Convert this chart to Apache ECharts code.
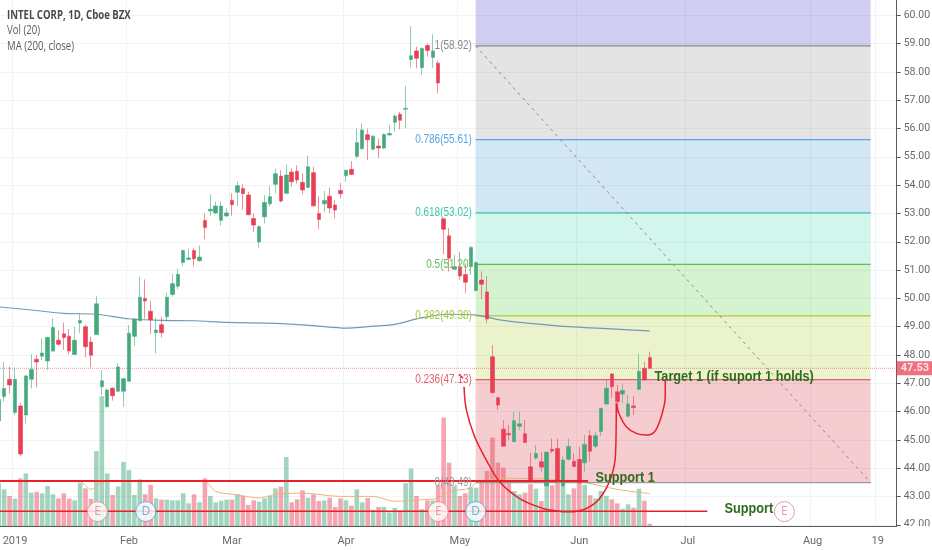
<!DOCTYPE html>
<html><head><meta charset="utf-8">
<style>html,body{margin:0;padding:0;background:#fff}#c{width:932px;height:550px}</style>
<script src="https://cdn.jsdelivr.net/npm/echarts@6/dist/echarts.min.js"></script>
</head><body><div id="c"></div>
<script>
// ---------- data ----------
const holidays = ['2019-01-01','2019-01-21','2019-02-18','2019-04-19','2019-05-27'];
const tickLabels = {'2019-01-02':'2019','2019-02-01':'Feb','2019-03-01':'Mar','2019-04-01':'Apr','2019-05-01':'May','2019-06-03':'Jun','2019-07-01':'Jul','2019-08-01':'Aug','2019-08-19':'19'};
const priceTicks = [42,43,44,45,46,47,48,49,50,51,52,53,54,55,56,57,58,59,60];
// open, close, low, high (first bar = 27 Dec 2018)
const ohlc = [
[45.67,46.43,45.58,46.76],[46.53,46.82,46.35,47.76],[47.14,46.94,46.64,47.59],
[45.97,47.14,45.88,47.56],[46.20,44.50,44.43,46.31],[45.88,47.26,45.58,47.29],[47.14,47.49,46.82,48.03],[47.85,47.75,46.86,48.00],
[47.96,48.07,47.82,48.59],[47.79,48.62,47.47,48.65],[48.14,48.97,48.12,49.30],[48.52,48.38,48.33,48.88],[48.75,48.62,48.18,49.15],
[48.66,48.14,48.03,48.92],[48.02,48.52,48.00,49.00],[49.13,49.22,48.77,49.47],[49.00,48.29,47.92,49.06],[48.46,47.99,47.56,48.65],
[48.72,49.81,48.71,50.08],[46.88,47.09,46.59,47.47],[46.17,46.76,46.15,46.82],[46.83,46.56,46.39,46.86],[46.72,47.58,46.70,47.71],
[46.72,47.16,46.17,47.20],[47.07,48.77,47.06,49.06],[48.66,49.27,48.32,49.29],[49.21,50.04,49.20,50.77],[50.00,49.91,49.29,50.67],
[49.55,49.24,48.74,49.92],[48.79,48.88,48.06,49.32],[49.07,48.79,48.62,49.35],[49.35,50.04,49.18,50.21],[50.14,50.52,50.06,50.86],
[50.43,50.85,50.32,51.06],[51.27,51.69,51.14,51.72],[51.38,51.43,51.33,51.76],[51.69,51.40,51.12,51.77],[51.33,51.46,51.30,51.87],
[52.75,52.50,52.09,53.00],[53.09,53.15,52.92,53.68],[53.02,53.26,52.98,53.42],[52.76,53.26,52.57,53.43],[52.91,53.02,52.88,53.18],
[53.46,53.31,52.92,53.71],[53.75,53.98,53.26,54.12],[53.88,53.70,53.14,54.03],[53.65,52.95,52.94,53.77],[52.82,52.59,52.35,53.00],
[51.99,52.53,51.79,52.58],[52.88,53.39,52.65,53.65],[53.34,53.59,53.24,53.98],[54.03,54.40,53.71,54.59],[54.32,53.44,53.39,54.53],
[53.71,54.36,53.68,54.73],[54.46,54.12,53.94,54.59],[54.49,54.18,54.06,54.71],[54.10,53.83,53.68,54.41],[53.92,54.65,53.91,55.04],
[54.44,53.27,53.24,54.65],[53.00,52.79,52.44,53.61],[53.34,53.46,53.04,53.80],[53.61,53.19,53.00,53.92],[53.30,53.12,52.82,53.47],
[53.81,53.70,53.53,54.08],[54.33,54.53,54.12,54.53],[54.56,54.38,54.36,54.85],[55.02,55.50,54.95,56.00],[55.29,55.95,55.24,56.18],
[55.78,55.60,54.89,56.00],[55.27,55.73,55.24,55.77],[55.38,55.31,54.95,55.65],[55.31,55.79,55.27,55.83],[55.77,55.82,55.75,56.12],
[56.22,56.44,55.89,56.50],[56.50,56.29,55.97,56.59],[56.68,56.71,56.00,57.50],[58.44,58.57,58.15,59.62],[58.74,58.48,58.13,58.89],
[58.15,58.83,57.89,58.86],[58.93,58.76,58.54,59.01],[58.51,58.74,58.15,59.33],[58.31,57.61,57.24,58.40],[52.81,52.44,51.56,52.83],
[52.21,51.42,50.95,52.48],[51.03,51.12,51.00,51.54],[51.12,50.79,50.65,51.65],[50.84,50.57,50.18,51.24],[51.12,51.80,50.83,51.85],
[50.28,51.27,50.24,51.30],[50.65,50.50,49.98,50.95],[50.23,49.27,49.12,50.79],[47.94,46.67,46.65,48.35],[46.49,46.23,46.06,46.53],
[45.38,44.78,44.76,45.70],[45.23,45.18,44.99,45.53],[44.94,45.68,44.94,46.00],[45.48,45.57,45.35,46.00],[45.22,44.91,44.90,45.70],
[44.05,43.56,43.53,44.55],[44.36,44.52,44.31,44.82],[44.23,44.04,43.88,44.58],[43.38,44.57,43.35,44.58],[44.67,44.61,44.53,45.05],
[44.70,43.56,43.52,45.05],[43.38,44.29,43.35,44.41],[44.32,44.77,44.27,45.05],[44.25,44.06,44.05,44.52],[44.31,43.49,43.47,44.76],
[44.19,44.84,43.88,45.17],[45.15,44.60,44.23,45.35],[44.78,45.15,44.70,45.29],[45.30,46.12,45.14,46.12],[46.27,46.83,46.23,47.11],
[47.33,46.88,46.47,47.35],[46.70,46.35,45.96,46.94],[46.62,46.75,46.29,47.00],[45.84,46.27,45.80,46.59],[46.20,46.15,45.88,46.55],
[46.79,47.43,46.76,48.04],[47.53,47.12,47.09,47.76],[47.91,47.53,47.53,48.12]
];
const volumes = [
26,22.3,18.3,16.6,29,32,20.3,20.7,19.9,24.3,19.3,16.8,19.9,16.6,15.6,26,22.9,16.6,45.6,79,
32,18.9,24,39,34,18.9,28.4,19.3,25,16.8,16,16,15.6,15.6,19.9,13.8,19.3,14.4,29,18.3,
14.4,15.4,16,16,19.3,18.3,12.8,15.6,14.8,16.8,18.3,22.9,24,42,14.4,16.2,21.7,17.2,19.3,15.2,
15.6,17.2,11.6,16.8,15.6,12.4,22.3,14.4,17,9.9,11.6,11.6,8.3,11,9.5,26,35,18.3,10.3,15.6,
15.6,25,66,38.5,24.3,18.3,19.9,23.3,23.3,27.4,33.5,53.8,38.5,35.5,27.4,21.3,19.3,20.3,25.4,22.7,
15.2,27.4,24.7,27.4,25.4,19.3,22.9,26.4,24.9,18.7,16.8,21.3,18.3,16.2,13.8,10.5,13.2,11.2,22.7,15.4,1.4
];
// [bar number from 2 Jan 2019, value]
const ma200 = [[-3.5,49.71],[3,49.59],[9,49.47],[15,49.44],[21,49.28],[27,49.22],[33,49.21],[39,49.15],[48,49.12],[55,49.04],[61,48.95],[65,49.0],[70,49.08],[75,49.32],[80,49.44],[85,49.41],[90,49.22],[100,49.03],[110,48.92],[117,48.85]];
const volMa = [[-3.5,27.4],[3,27.4],[12,26.8],[14,22.3],[16,26.4],[18,27.4],[30,27.4],[35,27],[37,21],[41,19],[45,17],[48,19.3],[53,20],[60,18],[66,18],[70,15],[75,16],[78,17],[80,21],[84,23],[85,26.4],[91,29],[99,28.4],[105,26.4],[111,22.3],[117,19.7]];
const fibStart = 84.9, fibEnd = 157.7, fibLabelAt = 84.2;
const fibLevels = ['1','0.786','0.618','0.5','0.382','0.236','0'];
const fibPrices = [58.92,55.61,53.02,51.20,49.38,47.13,43.49];
const fibLine = ['#8a8a8a','#5aa6e0','#3cc8a4','#5cbf55','#a9c93f','#e2606a','#9a9a9a'];
const fibBand = ['rgba(120,120,120,.2)','rgba(30,130,200,.2)','rgba(30,205,160,.2)','rgba(45,195,20,.2)','rgba(155,195,5,.2)','rgba(205,5,25,.2)'];
const fibTop = 60.6, fibTopBand = 'rgba(20,15,190,.2)';
const lastClose = 47.53;
const support1 = 43.55, support2 = 42.48;
const support1End = 105.6, support2End = 127.6;
const cup = [[82.76,46.88],[83.19,46.06],[84.72,45.11],[86.87,44.29],[89.33,43.52],[93.01,42.93],[97.31,42.58],[99.76,42.49],[102.22,42.46],[105.29,42.58],[107.75,42.93],[109.90,43.70],[110.69,44.52],[110.82,46.29]];
const handle = [[110.82,46.29],[111.43,45.88],[112.66,45.47],[114.50,45.23],[116.34,45.17],[117.88,45.29],[119.11,45.82],[119.84,46.53],[119.84,47.12]];
const stroke = [[81.84,47.32],[82.57,47.18]];
const notes = [{t:'Target 1 (if suport 1 holds)',x:117.86,y:47.22},{t:'Support 1',x:107,y:43.65},{t:'Support',x:130.76,y:42.56}];
const events = [{t:'E',x:15.2,c:'#e8828c'},{t:'D',x:24.1,c:'#4a9fe0'},{t:'E',x:78,c:'#e8828c'},{t:'D',x:84.9,c:'#4a9fe0'},{t:'E',x:141.8,c:'#e8828c'}];
const eventPrice = 42.47;
const legend = ['INTEL CORP, 1D, Cboe BZX','Vol (20)','MA (200, close)'];

// ---------- dates for the bar axis ----------
const categories = [];
for (let d = Date.UTC(2018,11,27); categories.length < 166; d += 864e5) {
  const D = new Date(d), s = D.toISOString().slice(0,10), w = D.getUTCDay();
  if (w && w < 6 && !holidays.includes(s)) categories.push(s);
}
const UP='#45a97e', DOWN='#e83f55';
const TICKFONT='Roboto,sans-serif';
const isUp = r => r[1] >= r[0];
const xVal = {xAxisIndex:1,yAxisIndex:0};
const line = (data,color,width,extra) => Object.assign({type:'line',data,...xVal,symbol:'none',silent:true,animation:false,lineStyle:{color,width},z:6},extra||{});
// real text, anchored through the axes, squeezed horizontally
const textSeries = (rows,z) => ({type:'custom',...xVal,silent:true,animation:false,z,clip:false,
  data:rows.map(r=>[r.x,r.y]),
  renderItem:(p,api)=>{const r=rows[p.dataIndex],c=api.coord([api.value(0),api.value(1)]);
    return {type:'text',x:c[0],y:c[1],scaleX:r.sx,style:{text:r.t,fill:r.c,font:r.f,textAlign:r.a,textVerticalAlign:'middle'}};}});

const bands = fibPrices.slice(1).map((p,i)=>[{xAxis:fibStart,yAxis:fibPrices[i],itemStyle:{color:fibBand[i]}},{xAxis:fibEnd,yAxis:p}]);
bands.push([{xAxis:fibStart,yAxis:fibTop,itemStyle:{color:fibTopBand}},{xAxis:fibEnd,yAxis:fibPrices[0]}]);

const series = [
 {type:'line',data:[],...xVal,silent:true,z:1,markArea:{silent:true,data:bands}},
 {type:'bar',data:volumes.map((v,i)=>({value:v,itemStyle:{color:isUp(ohlc[i])?'rgba(69,169,126,.5)':'rgba(232,63,85,.47)'}})),xAxisIndex:0,yAxisIndex:1,barWidth:4.6,z:2,silent:true,animation:false},
 line(volMa,'#f0b27a',1,{yAxisIndex:1,z:3,smooth:.3}),
 ...fibPrices.map((p,i)=>line([[fibStart,p],[fibEnd,p]],fibLine[i],1.2,{z:3})),
 line([[-3.5,lastClose],[162.5,lastClose]],'rgba(232,63,85,.55)',1,{z:3,lineStyle:{color:'rgba(232,63,85,.55)',width:1,type:[1,1]}}),
 line(ma200,'#6f9bb8',1.2,{z:4,smooth:.3}),
 line([[fibStart,fibPrices[0]],[fibEnd,fibPrices[6]]],'#8a8a8a',1,{z:4,lineStyle:{color:'#8a8a8a',width:1,type:[3,4]}}),
 {type:'candlestick',data:ohlc,xAxisIndex:0,yAxisIndex:0,barWidth:4,z:5,silent:true,animation:false,
  itemStyle:{color:UP,color0:DOWN,borderColor:UP,borderColor0:DOWN,borderWidth:.6}},
 line([[-3.5,support1],[support1End,support1]],'#e8202a',2),
 line([[-3.5,support2],[support2End,support2]],'#e8202a',1.6),
 line(cup,'#e8202a',1.5,{smooth:.35}),
 line(handle,'#e8202a',1.5,{smooth:.35}),
 line(stroke,'#e8202a',1.5),
 textSeries(fibPrices.map((p,i)=>({t:fibLevels[i]+'('+p.toFixed(2)+')',x:fibLabelAt,y:p,c:fibLine[i],f:'12.5px "Liberation Sans",sans-serif',a:'right',sx:.8})),7),
 textSeries(notes.map(n=>({t:n.t,x:n.x,y:n.y,c:'#2f6d1e',f:'bold 15.5px "Liberation Sans",sans-serif',a:'left',sx:.82})),8),
 {type:'scatter',...xVal,silent:true,animation:false,symbolSize:20,z:8,
  data:events.map(e=>({value:[e.x,eventPrice],itemStyle:{color:'#fff',borderColor:e.c,borderWidth:1},label:{show:true,position:'inside',formatter:e.t,color:e.c,fontFamily:'Open Sans',fontSize:12}}))},
 {type:'scatter',...xVal,silent:true,animation:false,symbolSize:0,z:9,clip:false,
  data:[{value:[162.5,lastClose],label:{show:true,position:'right',distance:0,formatter:lastClose.toFixed(2),color:'#fff',fontWeight:'bold',fontFamily:TICKFONT,fontSize:11,backgroundColor:'#ec4d5e',padding:[0,4,0,4],lineHeight:14}}]}
];

const chart = echarts.init(document.getElementById('c'),null,{renderer:'canvas'});
chart.setOption({
 animation:false,
 backgroundColor:'#fff',
 grid:{left:-4,top:0,width:900.7,height:526,containLabel:false,outerBoundsMode:'none'},
 xAxis:[
  {type:'category',data:categories,boundaryGap:true,
   axisLine:{lineStyle:{color:'#5a5a5a',width:1}},
   axisTick:{alignWithLabel:true,length:4,interval:(i,v)=>v in tickLabels,lineStyle:{color:'#5a5a5a'}},
   axisLabel:{interval:(i,v)=>v in tickLabels,formatter:v=>tickLabels[v]||'',color:'#6a6a6a',fontFamily:TICKFONT,fontSize:11,margin:10},
   splitLine:{show:true,interval:(i,v)=>v in tickLabels,lineStyle:{color:'#f0f3f8',width:1}}},
  {type:'value',min:-3.5,max:162.5,show:false,splitLine:{show:false}}
 ],
 yAxis:[
  {type:'value',position:'right',min:41.96,max:60.54,
   axisLine:{show:true,onZero:false,lineStyle:{color:'#5a5a5a',width:1}},
   axisTick:{show:true,length:4,customValues:priceTicks,lineStyle:{color:'#5a5a5a'}},
   axisLabel:{customValues:priceTicks,formatter:v=>v.toFixed(2),color:'#6a6a6a',fontFamily:TICKFONT,fontSize:10.5,margin:7,showMinLabel:true,showMaxLabel:true},
   splitLine:{show:true,lineStyle:{color:'#f0f3f8',width:1}}},
  {type:'value',min:0,max:320,show:false,splitLine:{show:false}}
 ],
 series,
 graphic:[
  {type:'text',x:7,y:10,scaleX:.8,z:20,style:{text:legend[0],font:'bold 12px "Open Sans",sans-serif',fill:'#4a4a4a'}},
  {type:'text',x:7,y:24.5,scaleX:.8,z:20,style:{text:legend[1],font:'12px "Open Sans",sans-serif',fill:'#5a5a5a'}},
  {type:'text',x:7,y:40.5,scaleX:.8,z:20,style:{text:legend[2],font:'12px "Open Sans",sans-serif',fill:'#5a5a5a'}},
  {type:'rect',shape:{x:898,y:526,width:34,height:24},z:20,style:{fill:'#fff'}}
 ]
});
</script></body></html>
